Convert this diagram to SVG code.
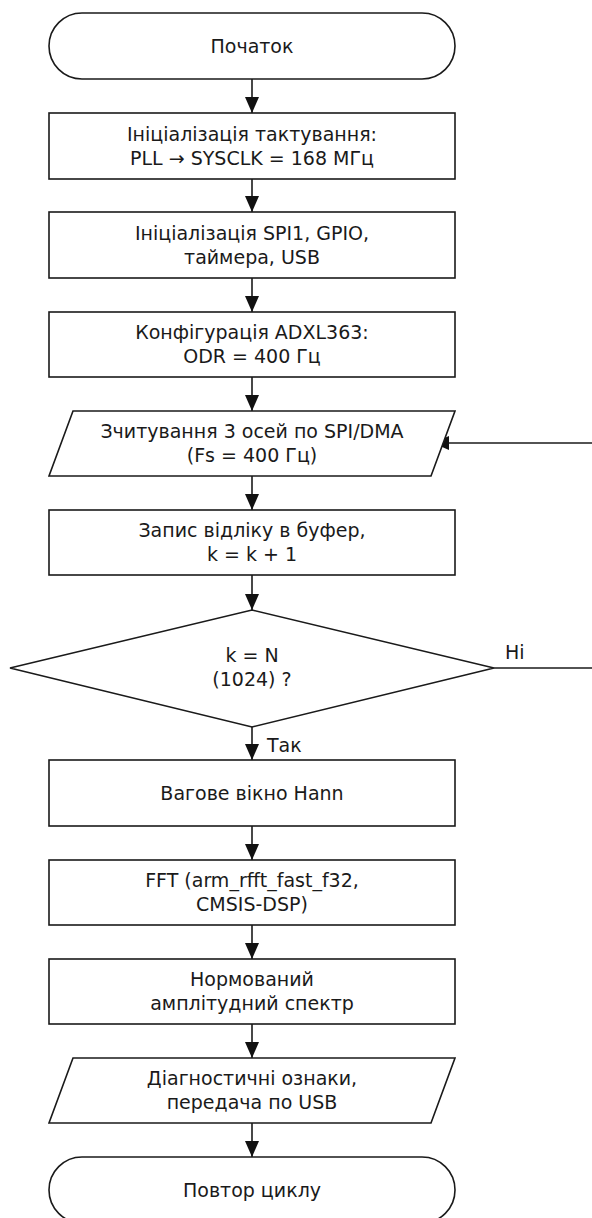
<svg xmlns="http://www.w3.org/2000/svg" width="592" height="1218" viewBox="0 0 592 1218">
<defs>
<marker id="ah" markerWidth="16" markerHeight="14" refX="16" refY="7" orient="auto" markerUnits="userSpaceOnUse" viewBox="0 0 16 14">
<path d="M0,0 L16,7 L0,14 Z" fill="#111"/>
</marker>
<style>
.s{fill:#fff;stroke:#1a1a1a;stroke-width:1.6}
.t{font-family:"DejaVu Sans","Noto Sans",sans-serif;font-size:19px;fill:#1a1a1a;text-anchor:middle}
.l{font-family:"DejaVu Sans","Noto Sans",sans-serif;font-size:19px;fill:#1a1a1a}
.c{fill:none;stroke:#1a1a1a;stroke-width:1.6}
</style>
</defs>
<rect width="592" height="1218" fill="#fff"/>
<g id="connectors">
<line class="c" x1="252" y1="79" x2="252" y2="113" marker-end="url(#ah)"/>
<line class="c" x1="252" y1="179" x2="252" y2="212" marker-end="url(#ah)"/>
<line class="c" x1="252" y1="278" x2="252" y2="312" marker-end="url(#ah)"/>
<line class="c" x1="252" y1="377" x2="252" y2="411" marker-end="url(#ah)"/>
<line class="c" x1="252" y1="476" x2="252" y2="510" marker-end="url(#ah)"/>
<line class="c" x1="252" y1="575" x2="252" y2="610" marker-end="url(#ah)"/>
<line class="c" x1="252" y1="727" x2="252" y2="760" marker-end="url(#ah)"/>
<line class="c" x1="252" y1="826" x2="252" y2="860" marker-end="url(#ah)"/>
<line class="c" x1="252" y1="925" x2="252" y2="959" marker-end="url(#ah)"/>
<line class="c" x1="252" y1="1024" x2="252" y2="1058" marker-end="url(#ah)"/>
<line class="c" x1="252" y1="1123" x2="252" y2="1157" marker-end="url(#ah)"/>
<line class="c" x1="494" y1="668" x2="594" y2="668"/>
<line class="c" x1="594" y1="443" x2="433" y2="443" marker-end="url(#ah)"/>
<text class="l" x="505" y="659">Ні</text>
<text class="l" x="267" y="752">Так</text>
</g>
<g id="start">
<rect class="s" x="49" y="13" width="406" height="66" rx="33" ry="33"/>
<text class="t" x="252" y="52.5">Початок</text>
</g>
<g id="clock">
<rect class="s" x="49" y="113" width="406" height="66"/>
<text class="t" x="252" y="140.5">Ініціалізація тактування:</text>
<text class="t" x="252" y="164.5">PLL → SYSCLK = 168 МГц</text>
</g>
<g id="periph">
<rect class="s" x="49" y="212" width="406" height="66"/>
<text class="t" x="252" y="239.5">Ініціалізація SPI1, GPIO,</text>
<text class="t" x="252" y="263.5">таймера, USB</text>
</g>
<g id="adxl">
<rect class="s" x="49" y="312" width="406" height="65"/>
<text class="t" x="252" y="339">Конфігурація ADXL363:</text>
<text class="t" x="252" y="363">ODR = 400 Гц</text>
</g>
<g id="read">
<polygon class="s" points="73,411 455,411 431,476 49,476"/>
<text class="t" x="252" y="438">Зчитування 3 осей по SPI/DMA</text>
<text class="t" x="252" y="462">(Fs = 400 Гц)</text>
</g>
<g id="store">
<rect class="s" x="49" y="510" width="406" height="65"/>
<text class="t" x="252" y="537">Запис відліку в буфер,</text>
<text class="t" x="252" y="561">k = k + 1</text>
</g>
<g id="decision">
<polygon class="s" points="252,610 494,668 252,727 10,668"/>
<text class="t" x="252" y="662">k = N</text>
<text class="t" x="252" y="686">(1024) ?</text>
</g>
<g id="hann">
<rect class="s" x="49" y="760" width="406" height="66"/>
<text class="t" x="252" y="799.5">Вагове вікно Hann</text>
</g>
<g id="fft">
<rect class="s" x="49" y="860" width="406" height="65"/>
<text class="t" x="252" y="887">FFT (arm_rfft_fast_f32,</text>
<text class="t" x="252" y="911">CMSIS-DSP)</text>
</g>
<g id="spectrum">
<rect class="s" x="49" y="959" width="406" height="65"/>
<text class="t" x="252" y="986">Нормований</text>
<text class="t" x="252" y="1010">амплітудний спектр</text>
</g>
<g id="output">
<polygon class="s" points="73,1058 455,1058 431,1123 49,1123"/>
<text class="t" x="252" y="1085">Діагностичні ознаки,</text>
<text class="t" x="252" y="1109">передача по USB</text>
</g>
<g id="end">
<rect class="s" x="49" y="1157" width="406" height="66" rx="33" ry="33"/>
<text class="t" x="252" y="1196.5">Повтор циклу</text>
</g>
</svg>
